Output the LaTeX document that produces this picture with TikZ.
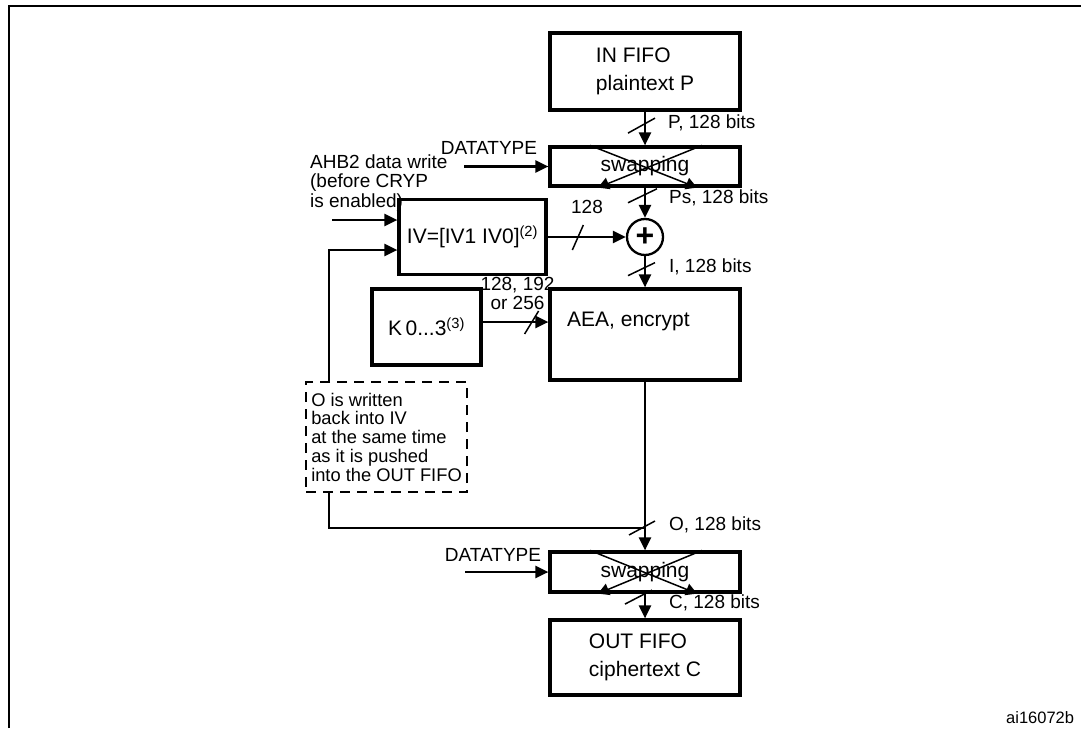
\documentclass[tikz,border=0pt]{standalone}
\usepackage{fontspec}
\setmainfont{Liberation Sans}
\usetikzlibrary{arrows.meta,calc}
\tikzset{
  block/.style={draw, line width=3.2pt, minimum width=190pt, inner sep=0pt, align=left,
    font=\fontsize{21}{27.5}\selectfont},
  lbl/.style={inner sep=0pt, font=\fontsize{19}{19.5}\selectfont},
  bus/.style={line width=1.5pt},
  swapx/.style={line width=1.5pt, -{Triangle[length=11pt,width=12pt]}},
}
\begin{document}
\begin{tikzpicture}[x=1pt, y=-1pt, >={Triangle[length=13pt,width=12pt]}, line width=2.3pt]
       \useasboundingbox (0,0) rectangle (1081,728);
       \draw [line width=2.5pt] (9,728) -- (9,6) -- (1081,6);
       % boxes
       \node [block, minimum height=77pt] (infifo) at (645,71.5) {IN FIFO\\plaintext P};
       \node [block, minimum height=39pt] (swap1) at (645,166.5) {swapping};
       \node [draw, circle, line width=2.3pt, minimum size=36pt, inner sep=0pt,
              font=\fontsize{32}{32}\selectfont\bfseries] (xor) at (645,237) {+};
       \node [block, minimum width=147pt, minimum height=75pt] (iv) at (472.5,237) {IV=[IV1 IV0]\textsuperscript{(2)}};
       \node [block, minimum width=109pt, minimum height=76pt] (key) at (426.5,327) {K\,0...3\textsuperscript{(3)}};
       \node [block, minimum height=91pt] (aea) at (645,334.5) {};
       \node [lbl, anchor=west, font=\fontsize{21}{24}\selectfont] (aeatext) at (566,321) {AEA, encrypt};
       \node [block, minimum height=40pt] (swap2) at (645,572) {swapping};
       \node [block, minimum height=75pt] (outfifo) at (645,657.5) {OUT FIFO\\ciphertext C};
       % swapping crosses
       \foreach \s in {swap1,swap2} {
         \draw [swapx] ($(\s.north)+(-55,0)$) -- ($(\s.south)+(52,0)$);
         \draw [swapx] ($(\s.north)+(57,0)$) -- ($(\s.south)+(-47,0)$);
       }
       % data path
       \draw [->] (infifo) -- (swap1);
       \draw [->] (swap1) -- (xor);
       \draw [->] (xor) -- (aea);
       \draw [->] (iv) -- (xor);
       \draw [->] ([yshift=5pt]key.east) -- ([yshift=5pt]key.east -| aea.west);
       \draw [->] (aea) -- (swap2);
       \draw [->] (swap2) -- (outfifo);
       \coordinate (tap) at (645,528);
       \coordinate (fbturn) at (329,250);
       \draw [->] (tap) -| (fbturn) -- (fbturn -| iv.west);
       \coordinate (ahbin) at (332,220);
       \draw [->] (ahbin) -- (ahbin -| iv.west);
       \coordinate (dt1in) at (464,166.5);
       \draw [->] (dt1in) -- (dt1in -| swap1.west);
       \coordinate (dt2in) at (465,572);
       \draw [->] (dt2in) -- (dt2in -| swap2.west);
       % bus width marks
       \draw [bus] ($(infifo.south)!.4!(swap1.north)$) +(-17,8) -- +(10,-7);
       \draw [bus] ($(swap1.south)!.27!(xor.north)$) +(-17,7) -- +(12,-7);
       \draw [bus] ($(xor.south)!.4!(aea.north)$) +(-17,7) -- +(10,-6);
       \draw [bus] (tap) +(-16,7) -- +(10,-7);
       \draw [bus] ($(swap2.south)!.14!(outfifo.north)$) +(-20,7) -- +(7,-7);
       \draw [bus] ($(iv.east)!.38!(xor.west)$) +(-5,13) -- +(6,-12);
       \draw [bus] ([yshift=5pt]key.east) ++(49,0) +(-7,12) -- +(7,-11);
       % note
       \node [lbl, draw, dashed, dash pattern=on 10pt off 7pt, line width=2.3pt, fill=white, align=left,
              minimum width=161pt, minimum height=110pt, font=\fontsize{18.3}{18.75}\selectfont] (note) at (386.5,437)
              {O is written\\back into IV\\at the same time\\as it is pushed\\into the OUT FIFO};
       % labels
       \node [lbl] (dt1) at (489,148) {DATATYPE};
       \node [lbl] (dt2) at (493,555) {DATATYPE};
       \node [lbl, anchor=west, align=left] (ahb) at (309,183) {AHB2 data write\\(before CRYP\\is enabled)};
       \node [lbl, anchor=west] (pbits) at (667,123) {P, 128 bits};
       \node [lbl, anchor=west] (psbits) at (668,198) {Ps, 128 bits};
       \node [lbl, anchor=west] (ibits) at (668,267) {I, 128 bits};
       \node [lbl, anchor=west] (obits) at (668,525) {O, 128 bits};
       \node [lbl, anchor=west] (cbits) at (668,603) {C, 128 bits};
       \node [lbl] (ivbits) at (587,207) {128};
       \node [lbl, align=center] (keybits) at (517.5,293.5) {128, 192\\or 256};
       \node [lbl, anchor=west, font=\fontsize{16.5}{18}\selectfont] (figref) at (1005,718) {ai16072b};
    \end{tikzpicture}
\end{document}
